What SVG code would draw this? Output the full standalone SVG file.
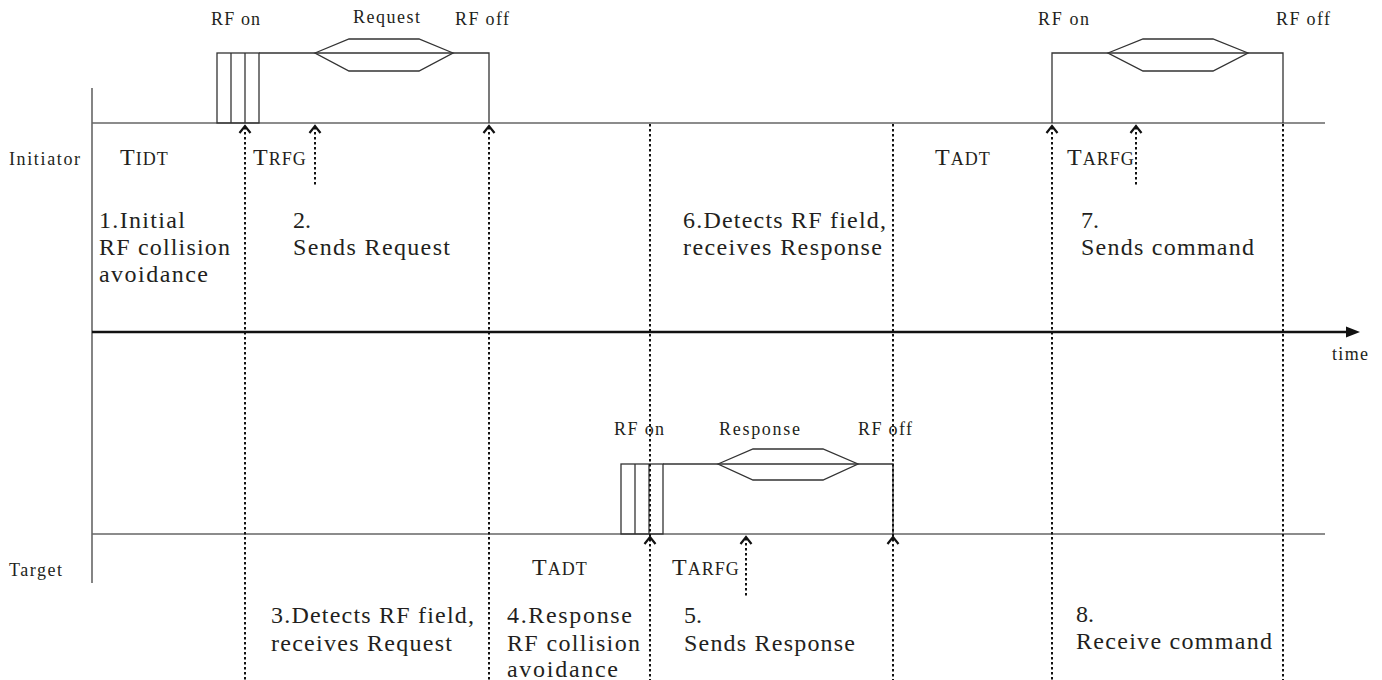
<svg xmlns="http://www.w3.org/2000/svg" width="1382" height="680" viewBox="0 0 1382 680">
<style>
text{font-family:"Liberation Serif","Times New Roman",serif;fill:#231f20}
.s{font-size:18px}
.b{font-size:24px}
.tb{font-size:24px;letter-spacing:1px}
.tb tspan.sc{font-size:18px}
.base{stroke:#666;stroke-width:1.6;fill:none}
.sig{stroke:#333;stroke-width:1.3;fill:none}
.dot{stroke:#111;stroke-width:2;stroke-dasharray:2.6 2.4;fill:none}
.chev{stroke:#111;stroke-width:2.2;fill:none}
</style>
<rect width="1382" height="680" fill="#fff"/>

<g id="axes">
<line class="base" x1="92" y1="88" x2="92" y2="583"/>
<line class="base" x1="92" y1="123" x2="1325" y2="123"/>
<line class="base" x1="92" y1="534" x2="1325" y2="534"/>
<line x1="92" y1="332" x2="1350" y2="332" stroke="#111" stroke-width="2.5"/>
<polygon points="1346,326.5 1360,332 1346,337.5" fill="#111"/>
<text class="s" x="1332" y="360" textLength="36">time</text>
<text class="s" x="9" y="165" textLength="71">Initiator</text>
<text class="s" x="9" y="576" textLength="53">Target</text>
</g>

<g id="initiator-signal-1">
<rect class="sig" x="217" y="53" width="42" height="70"/>
<line class="sig" x1="231" y1="53" x2="231" y2="123"/>
<line class="sig" x1="245" y1="53" x2="245" y2="123" stroke="#111" stroke-width="1.8"/>
<polyline class="sig" points="259,53 489,53 489,123"/>
<polygon class="sig" points="315,53 349,39 419,39 453,53 419,71 349,71"/>
<text class="s" x="211" y="25" textLength="49">RF on</text>
<text class="s" x="353" y="23" textLength="67">Request</text>
<text class="s" x="455" y="25" textLength="54">RF off</text>
</g>

<g id="initiator-signal-2">
<polyline class="sig" points="1052,123 1052,53 1283,53 1283,123"/>
<polygon class="sig" points="1108,53 1143,39 1213,39 1248,53 1213,71 1143,71"/>
<text class="s" x="1038" y="25" textLength="51">RF on</text>
<text class="s" x="1276" y="25" textLength="54">RF off</text>
</g>

<g id="target-signal">
<rect class="sig" x="621" y="464" width="42" height="70"/>
<line class="sig" x1="635" y1="464" x2="635" y2="534" stroke="#111" stroke-width="1.8"/>
<line class="sig" x1="649" y1="464" x2="649" y2="534"/>
<polyline class="sig" points="663,464 893,464 893,534"/>
<polygon class="sig" points="718,464 753,449 823,449 858,464 823,480 753,480"/>
<text class="s" x="614" y="435" textLength="50">RF on</text>
<text class="s" x="719" y="435" textLength="81">Response</text>
<text class="s" x="858" y="435" textLength="54">RF off</text>
</g>

<g id="connectors">
<line class="dot" x1="245" y1="127" x2="245" y2="680"/>
<line class="dot" x1="489" y1="127" x2="489" y2="680"/>
<line class="dot" x1="650" y1="124" x2="650" y2="680"/>
<line class="dot" x1="893" y1="124" x2="893" y2="680"/>
<line class="dot" x1="1052" y1="127" x2="1052" y2="680"/>
<line class="dot" x1="1283" y1="124" x2="1283" y2="680"/>
<line class="dot" x1="315" y1="127" x2="315" y2="186"/>
<line class="dot" x1="1136" y1="127" x2="1136" y2="186"/>
<line class="dot" x1="746" y1="538" x2="746" y2="597"/>
<polyline class="chev" points="239.5,133 245,126 250.5,133"/>
<polyline class="chev" points="309.5,133 315,126 320.5,133"/>
<polyline class="chev" points="483.5,133 489,126 494.5,133"/>
<polyline class="chev" points="1046.5,133 1052,126 1057.5,133"/>
<polyline class="chev" points="1130.5,133 1136,126 1141.5,133"/>
<polyline class="chev" points="644.5,544 650,537 655.5,544"/>
<polyline class="chev" points="740.5,544 746,537 751.5,544"/>
<polyline class="chev" points="887.5,544 893,537 898.5,544"/>
</g>

<g id="timing-labels">
<text class="tb" x="120" y="165">T<tspan class="sc">IDT</tspan></text>
<text class="tb" x="253" y="165">T<tspan class="sc">RFG</tspan></text>
<text class="tb" x="935" y="165">T<tspan class="sc">ADT</tspan></text>
<text class="tb" x="1067" y="165">T<tspan class="sc">ARFG</tspan></text>
<text class="tb" x="532" y="575">T<tspan class="sc">ADT</tspan></text>
<text class="tb" x="672" y="575">T<tspan class="sc">ARFG</tspan></text>
</g>

<g id="step-1">
<text class="b" x="99" y="228" textLength="86">1.Initial</text>
<text class="b" x="99" y="255" textLength="131">RF collision</text>
<text class="b" x="99" y="282" textLength="109">avoidance</text>
</g>
<g id="step-2">
<text class="b" x="293" y="228">2.</text>
<text class="b" x="293" y="255" textLength="157">Sends Request</text>
</g>
<g id="step-3">
<text class="b" x="271" y="623" textLength="203">3.Detects RF field,</text>
<text class="b" x="271" y="651" textLength="181">receives Request</text>
</g>
<g id="step-4">
<text class="b" x="507" y="623" textLength="125">4.Response</text>
<text class="b" x="507" y="651" textLength="133">RF collision</text>
<text class="b" x="507" y="677" textLength="111">avoidance</text>
</g>
<g id="step-5">
<text class="b" x="684" y="623">5.</text>
<text class="b" x="684" y="651" textLength="171">Sends Response</text>
</g>
<g id="step-6">
<text class="b" x="683" y="228" textLength="203">6.Detects RF field,</text>
<text class="b" x="683" y="255" textLength="199">receives Response</text>
</g>
<g id="step-7">
<text class="b" x="1081" y="228">7.</text>
<text class="b" x="1081" y="255" textLength="173">Sends command</text>
</g>
<g id="step-8">
<text class="b" x="1076" y="622">8.</text>
<text class="b" x="1076" y="649" textLength="196">Receive command</text>
</g>
</svg>
